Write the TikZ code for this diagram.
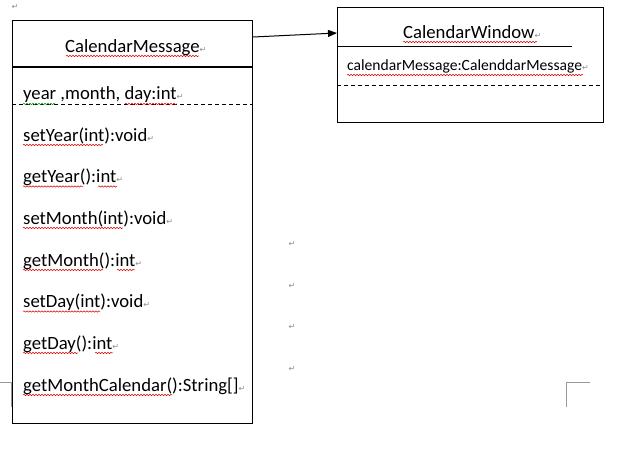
\documentclass[tikz,border=0pt]{standalone}
\usepackage{fontspec}
\setmainfont{Carlito}
\newfontfamily\dvfont{DejaVu Sans}
\usetikzlibrary{arrows.meta,decorations.pathmorphing,calc}
\newcommand{\parmk}{{\dvfont\fontsize{8}{8}\selectfont\textcolor{black!45}{↵}}}
\tikzset{
  box/.style={draw, line width=1.1pt, inner sep=0pt, anchor=north west},
  big/.style={anchor=base west, inner sep=0pt, font=\fontsize{18.7}{20}\selectfont},
  small/.style={anchor=base west, inner sep=0pt, font=\fontsize{15.6}{17}\selectfont},
  lonemark/.style={inner sep=0pt, font=\dvfont\fontsize{8}{8}\selectfont, text=black!45},
  wavyr/.style={draw=red!85!black, line width=0.5pt, decorate, decoration={snake, amplitude=0.7pt, segment length=3pt}},
  wavyg/.style={draw=green!55!black, line width=0.5pt, decorate, decoration={snake, amplitude=0.7pt, segment length=3pt}},
  crop/.style={draw=black!40, line width=1pt}
}
\begin{document}
\begin{tikzpicture}[x=1pt,y=-1pt]
\useasboundingbox (0,0) rectangle (622,457);
% boxes
\node[box, minimum width=240pt, minimum height=403pt] (cm) at (12,20) {};
\node[box, minimum width=266pt, minimum height=115pt] (cw) at (337,7) {};
% left box separators
\draw[line width=2.2pt] (12,67) -- (252,67);
\draw[dashed, dash pattern=on 4pt off 3pt, line width=0.8pt] (12,104) -- (252,104);
% right box separators
\draw[line width=1.3pt] (337,46.5) -- (572,46.5);
\draw[dashed, dash pattern=on 4pt off 3pt, line width=0.8pt] (337,85) -- (603,85);
% texts left
\node[big] (t0) at (65,52.5) {CalendarMessage\parmk};
\node[big] (t1) at (23,100) {year ,month, day:int\parmk};
\node[big] (t2) at (23,141.7) {setYear(int):void\parmk};
\node[big] (t3) at (23,183) {getYear():int\parmk};
\node[big] (t4) at (23,224.5) {setMonth(int):void\parmk};
\node[big] (t5) at (23,266.3) {getMonth():int\parmk};
\node[big] (t6) at (23,308) {setDay(int):void\parmk};
\node[big] (t7) at (23,349.5) {getDay():int\parmk};
\node[big] (t8) at (23,391.5) {getMonthCalendar():String[]\parmk};
% texts right
\node[big] (w0) at (403,38.5) {CalendarWindow\parmk};
\node[small] (w1) at (347,70.8) {calendarMessage:CalenddarMessage\parmk};
% lone paragraph marks
\node[lonemark] (m0) at (15,7) {↵};
\node[lonemark] (m1) at (292,244) {↵};
\node[lonemark] (m2) at (292,286) {↵};
\node[lonemark] (m3) at (292,327) {↵};
\node[lonemark] (m4) at (292,369) {↵};
% crop marks
\draw[crop] (0,383) -- (11.5,383) -- (11.5,407);
\draw[crop] (590,383) -- (566,383) -- (566,407);
% spell-check underlines
\draw[wavyr] (66,56) -- (199,56);
\draw[wavyg] (23,104) -- (55,104);
\draw[wavyr] (125,104) -- (177,104);
\draw[wavyr] (23,145) -- (103,145);
\draw[wavyr] (23,186.5) -- (83,186.5);
\draw[wavyr] (98,186.5) -- (117,186.5);
\draw[wavyr] (23,228) -- (123,228);
\draw[wavyr] (23,270) -- (103,270);
\draw[wavyr] (117,270) -- (135,270);
\draw[wavyr] (23,311.5) -- (100,311.5);
\draw[wavyr] (23,353) -- (78,353);
\draw[wavyr] (95,353) -- (113,353);
\draw[wavyr] (23,395) -- (172,395);
\draw[wavyr] (403,42) -- (537,42);
\draw[wavyr] (347,75) -- (583,75);
% association arrow
\coordinate (aS) at ($(cm.north east)+(0,17)$);
\coordinate (aE) at ($(cw.north west)+(0,26)$);
\draw[line width=1pt, -{Triangle[length=9pt,width=7pt]}] (aS) -- (aE);
\end{tikzpicture}
\end{document}
